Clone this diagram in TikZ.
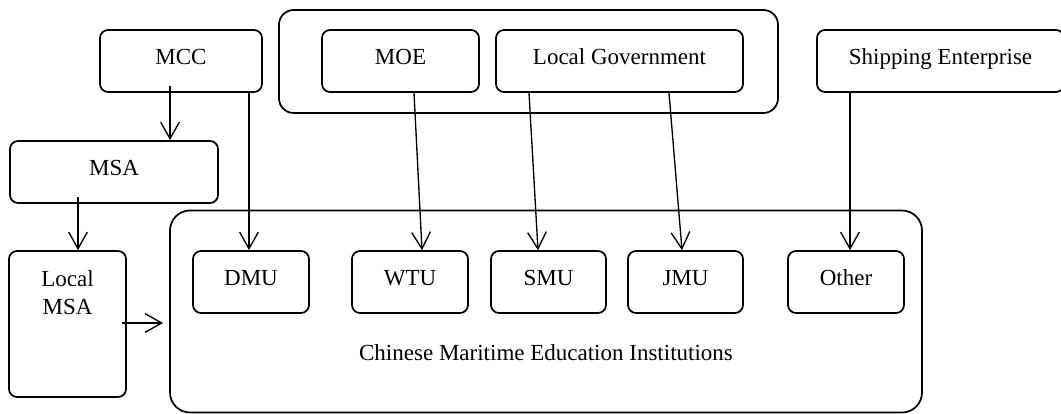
\documentclass[tikz,border=0pt]{standalone}
\usepackage{fontspec}
\setmainfont{Liberation Serif}
\usetikzlibrary{arrows.meta,calc}
\begin{document}
\begin{tikzpicture}[x=0.75pt,y=-0.75pt,
  box/.style={draw, line width=1.3pt, rounded corners=6pt, inner sep=0pt,
    minimum height=46.5pt, text height=11.4pt, text depth=6.75pt,
    font=\fontsize{17.25}{21}\selectfont},
  grp/.style={draw, line width=1.3pt, rounded corners=11pt, inner sep=0pt},
  arr/.style={line width=1pt, -{Straight Barb[length=12.5pt,width=14pt,line width=1pt]}},
  lbl/.style={inner sep=0pt, font=\fontsize{17.25}{21}\selectfont, align=center}]
\useasboundingbox (0,0) rectangle (1061,414);

% government group
\node[grp, minimum width=374.25pt, minimum height=77.25pt] (gov) at (528.5,61.5) {};
\node[box, minimum width=117.75pt] (moe) at (400.5,61) {MOE};
\node[box, minimum width=185.25pt] (lg) at (619.5,61) {Local Government};

% other top boxes
\node[box, minimum width=121.5pt] (mcc) at (181,61) {MCC};
\node[box, minimum width=156pt] (msa) at (114,172) {MSA};
\node[box, minimum width=185.25pt] (ship) at (940.5,61) {Shipping Enterprise};

% local MSA
\node[box, minimum width=87.75pt, minimum height=109.5pt] (lmsa) at (67.5,324) {};
\node[lbl, anchor=north] (lmsatext) at ($(lmsa.north)+(0,20)$) {Local\\MSA};

% institutions
\node[grp, rounded corners=15pt, minimum width=564pt, minimum height=151.5pt] (cmei) at (546,311.5) {};
\node[lbl, anchor=base] (cmeitext) at ($(cmei.center)+(0,48.5)$) {Chinese Maritime Education Institutions};
\node[box, minimum width=87pt] (dmu) at (251,282) {DMU};
\node[box, minimum width=87pt] (wtu) at (410,282) {WTU};
\node[box, minimum width=86.25pt] (smu) at (548.5,282) {SMU};
\node[box, minimum width=86.25pt] (jmu) at (685.5,282) {JMU};
\node[box, minimum width=87pt] (other) at (846,282) {Other};

% connectors
\draw[arr] ($(mcc.south)+(-11,-7)$) -- ($(msa.north)+(56,0)$);
\draw[arr] ($(msa.south)+(-36,-7)$) -- ($(lmsa.north)+(10.5,0)$);
\draw[arr] ($(mcc.south)+(68,0)$) -- ($(dmu.north)+(-2,0)$);
\draw[arr] ($(moe.south)+(13.5,0)$) -- ($(wtu.north)+(12,0)$);
\draw[arr] ($(lg.south)+(-90.5,0)$) -- ($(smu.north)+(-10.5,0)$);
\draw[arr] ($(lg.south)+(49.5,0)$) -- ($(jmu.north)+(-3.5,0)$);
\draw[arr] ($(ship.south)+(-90.5,0)$) -- ($(other.north)+(4,0)$);
\draw[arr] ($(lmsa.east)+(-5,-1)$) -- ($(cmei.west)+(-6,11.5)$);
\end{tikzpicture}
\end{document}
